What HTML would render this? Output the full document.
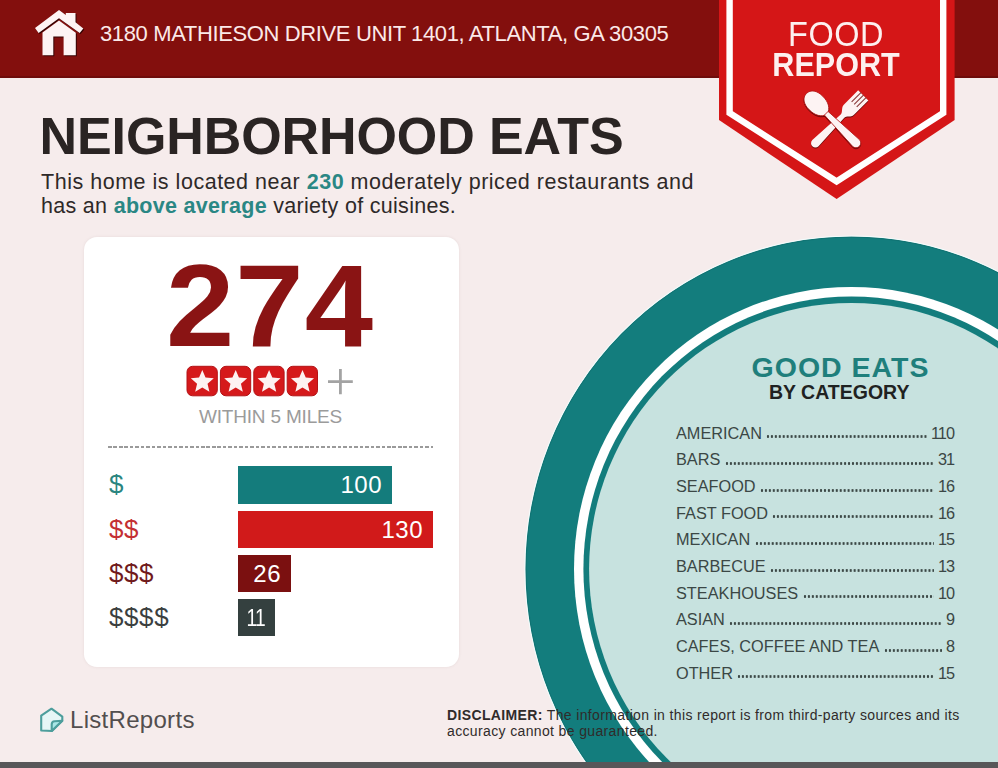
<!DOCTYPE html>
<html><head><meta charset="utf-8">
<style>
*{margin:0;padding:0;box-sizing:border-box}
html,body{width:998px;height:768px;overflow:hidden}
body{position:relative;background:#f6ecec;font-family:"Liberation Sans",sans-serif;color:#2b2625}
.a{position:absolute;white-space:nowrap}
#hdr{left:0;top:0;width:998px;height:78px;background:#830f0d;border-bottom:2px solid #6e0c0b}
#addr{left:100px;top:21px;font-size:22px;line-height:26px;color:#fbe9e8;letter-spacing:-0.37px}
#title{left:39.5px;top:108px;letter-spacing:-0.09px;font-size:52px;line-height:56px;font-weight:bold;color:#2a2423}
.sub{left:41px;font-size:21.5px;line-height:24px;color:#2e2928}
.tl{color:#2a8784;font-weight:bold}
#card{left:84px;top:236.8px;width:374.5px;height:430.5px;background:#fff;border-radius:13px;box-shadow:0 0 3px rgba(120,100,100,0.12)}
#num{left:166px;top:250.5px;font-size:117px;line-height:110px;letter-spacing:1px;transform:scaleX(1.05);transform-origin:0 0;font-weight:bold;color:#8a1414}
#within{left:199px;top:406.3px;font-size:19px;line-height:22px;color:#9b9b9b;letter-spacing:-0.19px}
#dash{left:108px;top:446px;width:325px;height:2px;background:repeating-linear-gradient(90deg,#9a9a9a 0 3.6px,transparent 3.6px 5.47px)}
.bar{position:absolute;left:238px;height:37.3px;color:#fff;font-size:24px;line-height:37.3px;text-align:right;padding-right:10px;letter-spacing:0.5px}
.lab{position:absolute;left:109px;font-size:26px;line-height:37px;letter-spacing:0.6px}
#foot{left:0;top:762px;width:998px;height:6px;background:#585759}
#lr{left:70px;top:706px;font-size:24px;line-height:28px;color:#524e4e;letter-spacing:0.3px}
#disc{left:447px;top:706.5px;font-size:14px;line-height:16px;color:#302b2a;letter-spacing:0.36px}
.row{position:absolute;left:676px;width:278.2px;height:20px;font-size:16.3px;line-height:20px;color:#3b4745;display:flex}
.row span:last-child{letter-spacing:-0.9px}
.row .d{flex:1;height:3px;align-self:flex-end;margin:0 4px 4.3px 4.5px;background:radial-gradient(circle,#3b4745 1.05px,rgba(59,71,69,0) 1.5px) left center/3.95px 3px repeat-x}

#food{left:736px;top:19px;letter-spacing:0.5px;width:200px;text-align:center;font-size:32.5px;line-height:34px;color:#fdf0ef;transform:scaleY(1.09);transform-origin:50% 100%}
#report{left:736px;top:48px;width:200px;text-align:center;font-size:33.5px;line-height:34px;font-weight:bold;color:#fdf0ef;transform:scaleX(0.912)}
#ge{left:685.5px;top:352px;width:310px;text-align:center;font-size:28.5px;line-height:30px;font-weight:bold;color:#1f7f7c;letter-spacing:1px}
#bc{left:684.2px;top:381px;width:310px;text-align:center;font-size:19.5px;line-height:22px;font-weight:bold;color:#1f2222}
</style></head><body>
<div class="a" id="hdr"></div>
<div class="a" id="card"></div>
<svg class="a" style="left:0;top:0" width="998" height="768" viewBox="0 0 998 768">
  <!-- circle -->
  <ellipse cx="851.4" cy="569.1" rx="326.1" ry="332.7" fill="#137d7d"/>
  <ellipse cx="851.4" cy="569.1" rx="326.5" ry="333.1" fill="none" stroke="#f2ffff" stroke-width="1.1" opacity="0.85"/>
  <ellipse cx="851.4" cy="569.1" rx="325.3" ry="331.9" fill="none" stroke="#0d6a6a" stroke-width="1" opacity="0.5"/>
  <ellipse cx="851.4" cy="569.1" rx="277.4" ry="282.1" fill="#ffffff"/>
  <ellipse cx="851.4" cy="569.1" rx="268" ry="272.6" fill="#137d7d"/>
  <ellipse cx="851.4" cy="569.1" rx="262.3" ry="266.1" fill="#c7e2df"/>
  
  <g fill="#fdf3f3" style="filter:drop-shadow(1px 1.5px 0.6px rgba(40,0,0,0.85))">
    <polygon points="35,27.9 59,10 65.8,15.1 65.8,12.9 75.5,12.9 75.5,22.3 83.3,28.6 79.7,32.9 59,18.2 38.6,32.9"/>
    <polygon points="42.5,55.2 42.5,32.6 59,20.6 75.8,32.8 75.8,55.2 63.6,55.2 63.6,36.5 53.3,36.5 53.3,55.2"/>
  </g>
  <!-- stars -->
  <rect x="187" y="366.3" width="30.3" height="29.5" rx="5.6" fill="#d5191b" stroke="#b31316" stroke-width="1"/>
  <polygon points="202.30,369.90 205.53,377.55 213.81,378.26 207.53,383.70 209.41,391.79 202.30,387.50 195.19,391.79 197.07,383.70 190.79,378.26 199.07,377.55" fill="#fdf2f2"/>
  <rect x="220.4" y="366.3" width="30.3" height="29.5" rx="5.6" fill="#d5191b" stroke="#b31316" stroke-width="1"/>
  <polygon points="235.70,369.90 238.93,377.55 247.21,378.26 240.93,383.70 242.81,391.79 235.70,387.50 228.59,391.79 230.47,383.70 224.19,378.26 232.47,377.55" fill="#fdf2f2"/>
  <rect x="253.8" y="366.3" width="30.3" height="29.5" rx="5.6" fill="#d5191b" stroke="#b31316" stroke-width="1"/>
  <polygon points="269.10,369.90 272.33,377.55 280.61,378.26 274.33,383.70 276.21,391.79 269.10,387.50 261.99,391.79 263.87,383.70 257.59,378.26 265.87,377.55" fill="#fdf2f2"/>
  <rect x="287.2" y="366.3" width="30.3" height="29.5" rx="5.6" fill="#d5191b" stroke="#b31316" stroke-width="1"/>
  <polygon points="302.50,369.90 305.73,377.55 314.01,378.26 307.73,383.70 309.61,391.79 302.50,387.50 295.39,391.79 297.27,383.70 290.99,378.26 299.27,377.55" fill="#fdf2f2"/>
  <path d="M328,381.7 H352.8 M340.4,369 V394.3" stroke="#a3a3a3" stroke-width="2.8" fill="none"/>
  <!-- listreports icon -->
  <path d="M41.2,730.5 V715.6 L51.5,708.7 L62.3,716.6 V720.8 L51.9,731 Z" fill="#e6f6f6" stroke="#4d9e9c" stroke-width="2.1" stroke-linejoin="round"/>
  <path d="M51.7,731 V724.3 Q51.7,721.4 54.6,721.2 L62.2,720.8 Z" fill="#a9e6e6" stroke="#4d9e9c" stroke-width="2.1" stroke-linejoin="round"/>
  <!-- badge -->
  <polygon points="719,0 954.6,0 954.6,120 836.6,199 719,120" fill="#d51617"/>
  <polyline points="729.6,0 729.6,113 836.6,181.5 943.2,113 943.2,0" fill="none" stroke="#fff" stroke-width="6.4"/>

  <g transform="translate(835.8,122.8)" style="filter:drop-shadow(0.8px 1px 0.6px rgba(60,0,0,0.7))">
    <g transform="rotate(-45)" fill="#fdf3f3">
      <path d="M -28.8,-4.4 L 9,-2.4 C 13,-2.4 14,-7 18.5,-7.2 L 38.8,-7.2 L 38.8,7.2 L 18.5,7.2 C 14,7 13,2.4 9,2.4 L -28.8,4.4 A 4.4 4.4 0 0 1 -28.8,-4.4 Z"/>
      <g stroke="#8a3a3a" stroke-width="1.1"><line x1="26" y1="-3.6" x2="39.5" y2="-3.6"/><line x1="26" y1="0" x2="39.5" y2="0"/><line x1="26" y1="3.6" x2="39.5" y2="3.6"/></g>
    </g>
    <g transform="rotate(45)" fill="#fdf3f3" stroke="#b51414" stroke-width="0.8">
      <path d="M -12.2,0 C -14,-6.5 -20,-9.6 -28,-9.6 C -36,-9.6 -41.5,-6 -41.5,0 C -41.5,6 -36,9.6 -28,9.6 C -20,9.6 -14,6.5 -12.2,0 Z"/>
      <path d="M -13.5,-2.6 L 28.5,-4.8 A 4.8 4.8 0 0 1 28.5,4.8 L -13.5,2.6 Z"/>
    </g>
  </g>
</svg>
<div class="a" id="addr">3180 MATHIESON DRIVE UNIT 1401, ATLANTA, GA 30305</div>
<div class="a" id="title">NEIGHBORHOOD EATS</div>
<div class="a sub" style="top:170.3px;letter-spacing:0.52px">This home is located near <span class="tl">230</span> moderately priced restaurants and</div>
<div class="a sub" style="top:193.8px;letter-spacing:0.3px">has an <span class="tl">above average</span> variety of cuisines.</div>
<div class="a" id="num">274</div>
<div class="a" id="within">WITHIN 5 MILES</div>
<div class="a" id="dash"></div>
<div class="lab" style="top:466.4px;color:#2a8580">$</div>
<div class="lab" style="top:510.5px;color:#c42f33">$$</div>
<div class="lab" style="top:555px;color:#701a1c">$$$</div>
<div class="lab" style="top:599.2px;color:#3b3f3f">$$$$</div>
<div class="bar" style="top:466.4px;width:154px;background:#147c7c">100</div>
<div class="bar" style="top:510.5px;width:195px;background:#d11a1a">130</div>
<div class="bar" style="top:555px;width:53px;background:#7b1010">26</div>
<div class="bar" style="top:599.2px;width:37px;background:#34403f;letter-spacing:-1px;padding-right:10.5px"><span style="display:inline-block;transform:scaleX(0.8);transform-origin:100% 50%">11</span></div>
<div class="a" id="food">FOOD</div>
<div class="a" id="report">REPORT</div>
<div class="a" id="ge">GOOD EATS</div>
<div class="a" id="bc">BY CATEGORY</div>
<div class="row" style="top:422.50px"><span>AMERICAN</span><span class="d"></span><span>110</span></div>
<div class="row" style="top:449.17px"><span>BARS</span><span class="d"></span><span>31</span></div>
<div class="row" style="top:475.84px"><span>SEAFOOD</span><span class="d"></span><span>16</span></div>
<div class="row" style="top:502.51px"><span>FAST FOOD</span><span class="d"></span><span>16</span></div>
<div class="row" style="top:529.18px"><span>MEXICAN</span><span class="d"></span><span>15</span></div>
<div class="row" style="top:555.85px"><span>BARBECUE</span><span class="d"></span><span>13</span></div>
<div class="row" style="top:582.52px"><span>STEAKHOUSES</span><span class="d"></span><span>10</span></div>
<div class="row" style="top:609.19px"><span>ASIAN</span><span class="d"></span><span>9</span></div>
<div class="row" style="top:635.86px"><span>CAFES, COFFEE AND TEA</span><span class="d"></span><span>8</span></div>
<div class="row" style="top:662.53px"><span>OTHER</span><span class="d"></span><span>15</span></div>
<div class="a" id="lr">ListReports</div>
<div class="a" id="disc"><b>DISCLAIMER:</b> The information in this report is from third-party sources and its<br>accuracy cannot be guaranteed.</div>
<div class="a" id="foot"></div>
</body></html>
